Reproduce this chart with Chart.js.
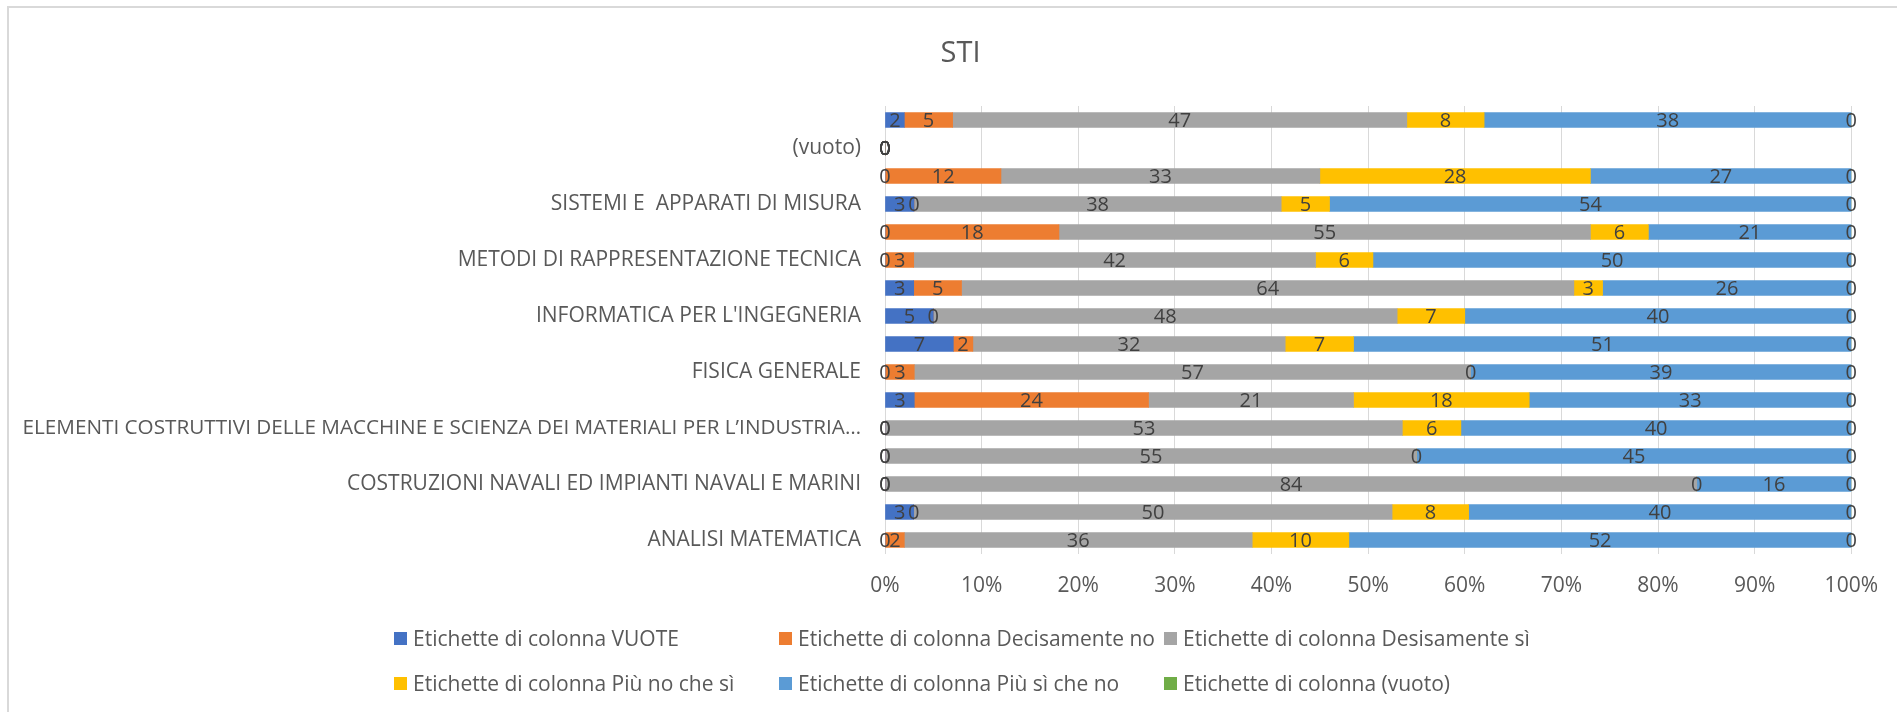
<!DOCTYPE html>
<html>
<head>
<meta charset="utf-8">
<script src="https://cdn.jsdelivr.net/npm/chart.js@4.4.1/dist/chart.umd.min.js"></script>
<style>
html,body{margin:0;padding:0;background:#fff;}
#wrap{position:relative;width:1897px;height:712px;overflow:hidden;font-family:'Open Sans',sans-serif;background:#fff;}
#frame{position:absolute;left:7px;top:6px;right:-10px;bottom:-10px;border-top:2px solid #d9d9d9;border-left:2px solid #d9d9d9;}
canvas{position:absolute;left:0;top:0;}
#legend{position:absolute;left:0;top:0;width:1897px;height:712px;pointer-events:none;}
.li{position:absolute;display:flex;align-items:center;font-size:21px;line-height:28px;height:28px;color:#595959;white-space:nowrap;}
.key{width:13px;height:13px;margin-right:6px;flex:none;}
</style>
</head>
<body>
<div id="wrap">
  <div id="frame"></div>
  <canvas id="c" width="1897" height="712"></canvas>
  <div id="legend"></div>
</div>
<script>
// ---- data ----
const chartTitle = 'STI';
const categories = [
  '', '(vuoto)', '', 'SISTEMI E  APPARATI DI MISURA', '', 'METODI DI RAPPRESENTAZIONE TECNICA', '',
  "INFORMATICA PER L'INGEGNERIA", '', 'FISICA GENERALE', '',
  'ELEMENTI COSTRUTTIVI DELLE MACCHINE E SCIENZA DEI MATERIALI PER L\u2019INDUSTRIA\u2026', '',
  'COSTRUZIONI NAVALI ED IMPIANTI NAVALI E MARINI', '', 'ANALISI MATEMATICA'
];
const seriesNames = [
  'Etichette di colonna VUOTE',
  'Etichette di colonna Decisamente no',
  'Etichette di colonna Desisamente sì',
  'Etichette di colonna Più no che sì',
  'Etichette di colonna Più sì che no',
  'Etichette di colonna (vuoto)'
];
const vuote         = [2, 0, 0, 3, 0, 0, 3, 5, 7, 0, 3, 0, 0, 0, 3, 0];
const decisamenteNo = [5, 0, 12, 0, 18, 3, 5, 0, 2, 3, 24, 0, 0, 0, 0, 2];
const desisamenteSi = [47, 0, 33, 38, 55, 42, 64, 48, 32, 57, 21, 53, 55, 84, 50, 36];
const piuNoCheSi    = [8, 0, 28, 5, 6, 6, 3, 7, 7, 0, 18, 6, 0, 0, 8, 10];
const piuSiCheNo    = [38, 0, 27, 54, 21, 50, 26, 40, 51, 39, 33, 40, 45, 16, 40, 52];
const vuotoCol      = [0, 0, 0, 0, 0, 0, 0, 0, 0, 0, 0, 0, 0, 0, 0, 0];
const xTickLabels = ['0%', '10%', '20%', '30%', '40%', '50%', '60%', '70%', '80%', '90%', '100%'];

// ---- styles ----
const colors = ['#4472C4', '#ED7D31', '#A5A5A5', '#FFC000', '#5B9BD5', '#70AD47'];
const allSeries = [vuote, decisamenteNo, desisamenteSi, piuNoCheSi, piuSiCheNo, vuotoCol];

// 100% stacked: normalise each category
const totals = categories.map((_, i) => allSeries.reduce((s, arr) => s + arr[i], 0));
const normalised = allSeries.map(arr => arr.map((v, i) => totals[i] ? v / totals[i] * 100 : 0));

const valueLabels = {
  id: 'valueLabels',
  afterDatasetsDraw(chart) {
    const ctx = chart.ctx;
    ctx.save();
    ctx.font = '20px "Open Sans"';
    ctx.fillStyle = '#404040';
    ctx.textAlign = 'center';
    ctx.textBaseline = 'middle';
    chart.data.datasets.forEach((ds, di) => {
      const meta = chart.getDatasetMeta(di);
      meta.data.forEach((el, i) => {
        const x = (el.x + el.base) / 2;
        ctx.fillText(String(ds.rawValues[i]), x, el.y + 1);
      });
    });
    ctx.restore();
  }
};

// chart title centred on the (wider, cropped) chart frame
const titlePlugin = {
  id: 'frameTitle',
  afterDraw(chart) {
    const ctx = chart.ctx;
    ctx.save();
    ctx.font = '29px "Open Sans"';
    ctx.fillStyle = '#595959';
    ctx.textAlign = 'center';
    ctx.textBaseline = 'middle';
    ctx.fillText(chartTitle, chart.width / 2 + 12, 53.4);
    ctx.restore();
  }
};

const fontBase = { family: "'Open Sans'", weight: 'normal' };

const chart = new Chart(document.getElementById('c'), {
  type: 'bar',
  data: {
    labels: categories,
    datasets: seriesNames.map((n, i) => ({
      label: n,
      data: normalised[i],
      rawValues: allSeries[i],
      backgroundColor: colors[i],
      barThickness: 15,
      stack: 's'
    }))
  },
  options: {
    indexAxis: 'y',
    responsive: false,
    animation: false,
    devicePixelRatio: 1,
    layout: { padding: { left: 24, right: 40, top: 106, bottom: 0 } },
    plugins: {
      legend: { display: false },
      tooltip: { enabled: false },
      title: { display: false }
    },
    scales: {
      x: {
        stacked: true,
        min: 0,
        max: 100,
        ticks: {
          stepSize: 10,
          autoSkip: false,
          maxRotation: 0,
          color: '#595959',
          font: Object.assign({}, fontBase, { size: 21 }),
          padding: 19,
          callback: (v, i) => xTickLabels[i]
        },
        grid: { color: '#d9d9d9', lineWidth: 1, drawTicks: false },
        border: { display: false },
        afterFit: s => { s.height = 158; }
      },
      y: {
        stacked: true,
        ticks: {
          autoSkip: false,
          color: '#595959',
          font: c => Object.assign({}, fontBase, { size: String(categories[c.index] || '').length > 60 ? 20.7 : 21 }),
          padding: 24
        },
        grid: { display: false, drawTicks: false },
        border: { display: false },
        afterFit: s => { s.width = 861; }
      }
    }
  },
  plugins: [valueLabels, titlePlugin]
});

// HTML legend from the chart's datasets (3 columns)
const leg = document.getElementById('legend');
chart.data.datasets.forEach((ds, i) => {
  const col = i % 3, row = Math.floor(i / 3);
  const d = document.createElement('div');
  d.className = 'li';
  d.style.left = (394 + col * 385) + 'px';
  d.style.top = (638 + row * 45 - 14) + 'px';
  const k = document.createElement('span');
  k.className = 'key';
  k.style.background = ds.backgroundColor;
  const t = document.createElement('span');
  t.textContent = ds.label;
  d.appendChild(k); d.appendChild(t);
  leg.appendChild(d);
});
</script>
</body>
</html>
